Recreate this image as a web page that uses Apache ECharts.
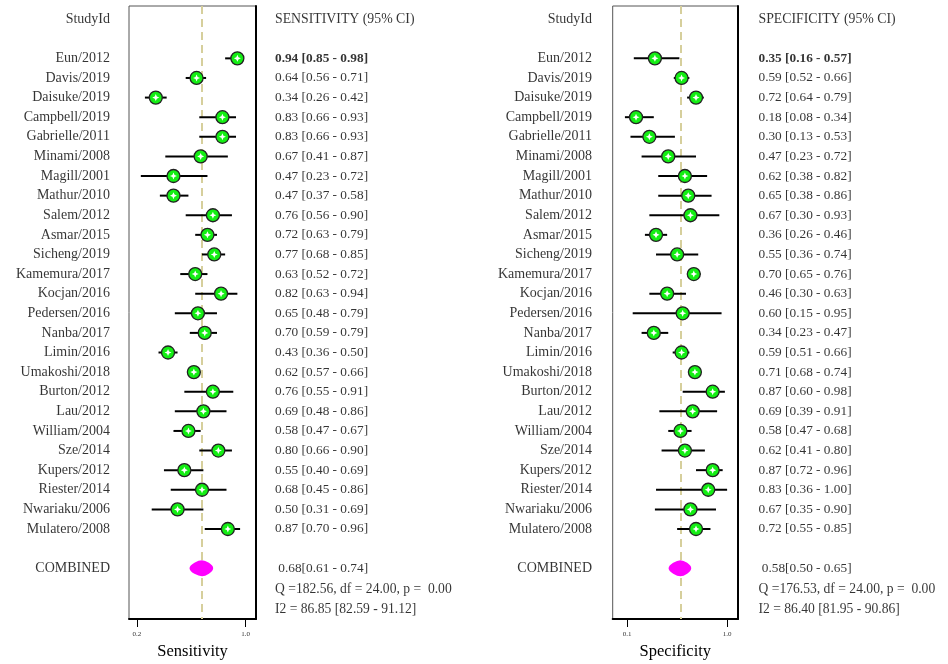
<!DOCTYPE html>
<html>
<head>
<meta charset="utf-8">
<script src="https://cdn.jsdelivr.net/npm/echarts@6/dist/echarts.min.js"></script>
<style>html,body{margin:0;padding:0;background:#fff}#c{width:948px;height:664px}</style>
</head>
<body>
<div id="c"></div>
<script>
const studies = ['Eun/2012','Davis/2019','Daisuke/2019','Campbell/2019','Gabrielle/2011','Minami/2008','Magill/2001','Mathur/2010','Salem/2012','Asmar/2015','Sicheng/2019','Kamemura/2017','Kocjan/2016','Pedersen/2016','Nanba/2017','Limin/2016','Umakoshi/2018','Burton/2012','Lau/2012','William/2004','Sze/2014','Kupers/2012','Riester/2014','Nwariaku/2006','Mulatero/2008'];

const sensEst = [0.94,0.64,0.34,0.83,0.83,0.67,0.47,0.47,0.76,0.72,0.77,0.63,0.82,0.65,0.70,0.43,0.62,0.76,0.69,0.58,0.80,0.55,0.68,0.50,0.87];
const sensLo  = [0.85,0.56,0.26,0.66,0.66,0.41,0.23,0.37,0.56,0.63,0.68,0.52,0.63,0.48,0.59,0.36,0.57,0.55,0.48,0.47,0.66,0.40,0.45,0.31,0.70];
const sensHi  = [0.98,0.71,0.42,0.93,0.93,0.87,0.72,0.58,0.90,0.79,0.85,0.72,0.94,0.79,0.79,0.50,0.66,0.91,0.86,0.67,0.90,0.69,0.86,0.69,0.96];

const specEst = [0.35,0.59,0.72,0.18,0.30,0.47,0.62,0.65,0.67,0.36,0.55,0.70,0.46,0.60,0.34,0.59,0.71,0.87,0.69,0.58,0.62,0.87,0.83,0.67,0.72];
const specLo  = [0.16,0.52,0.64,0.08,0.13,0.23,0.38,0.38,0.30,0.26,0.36,0.65,0.30,0.15,0.23,0.51,0.68,0.60,0.39,0.47,0.41,0.72,0.36,0.35,0.55];
const specHi  = [0.57,0.66,0.79,0.34,0.53,0.72,0.82,0.86,0.93,0.46,0.74,0.76,0.63,0.95,0.47,0.66,0.74,0.98,0.91,0.68,0.80,0.96,1.00,0.90,0.85];

const sensPooled = [0.68, 0.61, 0.74];
const specPooled = [0.58, 0.50, 0.65];
const sensStats = ['Q =182.56, df = 24.00, p =  0.00', 'I2 = 86.85 [82.59 - 91.12]'];
const specStats = ['Q =176.53, df = 24.00, p =  0.00', 'I2 = 86.40 [81.95 - 90.86]'];

const sensTicks = [0.2, 1.0];
const specTicks = [0.1, 1.0];
const sensTickLabels = ['0.2', '1.0'];
const specTickLabels = ['0.1', '1.0'];

const headerName = 'StudyId';
const sensHeader = 'SENSITIVITY (95% CI)';
const specHeader = 'SPECIFICITY (95% CI)';
const combinedName = 'COMBINED';
const sensAxisName = 'Sensitivity';
const specAxisName = 'Specificity';

// ---------- layout ----------
const FONT = '"Liberation Serif", "Times New Roman", serif';
const headerRow = -2;
const combinedRow = studies.length + 1;
const statRows = [combinedRow + 1.07, combinedRow + 2.1];
const yMin = -2.67, yMax = 28.59;
const gTop = 6, gHeight = 613;

const f2 = v => v.toFixed(2);
const ciText = (e, l, h) => `${f2(e)} [${f2(l)} - ${f2(h)}]`;
const pooledText = p => ` ${f2(p[0])}[${f2(p[1])} - ${f2(p[2])}]`;

const grids = [
  {left: 129, width: 127},        // 0 sens plot
  {left: 612.7, width: 125.3},    // 1 spec plot
  {left: 0, width: 110},          // 2 names left
  {left: 275, width: 150},        // 3 CI text left
  {left: 480, width: 112},        // 4 names right
  {left: 758.5, width: 150}       // 5 CI text right
].map(g => Object.assign({outerBoundsMode: 'none', show: false, top: gTop, height: gHeight}, g));
grids[0].show = true; grids[1].show = true;
grids[0].borderColor = '#555'; grids[0].borderWidth = 1;
grids[1].borderColor = '#555'; grids[1].borderWidth = 1;

function plotXAxis(gi, min, max, ticks, labels, name) {
  return {
    type: 'value', gridIndex: gi, min, max, position: 'bottom',
    splitLine: {show: false},
    axisLine: {show: true, onZero: false, lineStyle: {color: '#000', width: 2}},
    axisTick: {show: true, customValues: ticks, length: 8, lineStyle: {color: '#000', width: 1}},
    axisLabel: {show: true, customValues: ticks, fontSize: 7, fontFamily: FONT, color: '#333', margin: 12,
      formatter: v => labels[ticks.findIndex(t => Math.abs(t - v) < 1e-9)] || ''},
    name, nameLocation: 'middle', nameGap: 23,
    nameTextStyle: {fontFamily: FONT, fontSize: 16.5, color: '#000'}
  };
}
function hiddenXAxis(gi) {
  return {type: 'value', gridIndex: gi, min: 0, max: 1, show: false};
}
function yAxisFor(gi, showRight) {
  return {
    type: 'value', gridIndex: gi, min: yMin, max: yMax, inverse: true,
    position: 'right', show: showRight,
    splitLine: {show: false}, axisTick: {show: false}, axisLabel: {show: false},
    axisLine: {show: showRight, onZero: false, lineStyle: {color: '#000', width: 2}}
  };
}

const xAxis = [
  plotXAxis(0, 0.143, 1.077, sensTicks, sensTickLabels, sensAxisName),
  plotXAxis(1, -0.030, 1.098, specTicks, specTickLabels, specAxisName),
  hiddenXAxis(2), hiddenXAxis(3), hiddenXAxis(4), hiddenXAxis(5)
];
const yAxis = [yAxisFor(0, true), yAxisFor(1, true), yAxisFor(2, false), yAxisFor(3, false), yAxisFor(4, false), yAxisFor(5, false)];

function ciSeries(ai, lo, hi) {
  return {
    type: 'custom', xAxisIndex: ai, yAxisIndex: ai, z: 3,
    data: lo.map((l, i) => [l, hi[i], i]),
    encode: {x: [0, 1], y: 2},
    renderItem: (params, api) => {
      const a = api.coord([api.value(0), api.value(2)]);
      const b = api.coord([api.value(1), api.value(2)]);
      return {type: 'line', shape: {x1: a[0], y1: a[1], x2: b[0], y2: b[1]},
        style: {stroke: '#000', lineWidth: 2}};
    },
    markLine: {
      silent: true, symbol: 'none', z: 1,
      label: {show: false},
      lineStyle: {color: '#d6cf9c', width: 2, type: [8, 5]},
      data: [{xAxis: ai === 0 ? sensPooled[0] : specPooled[0]}]
    }
  };
}
function markerSeries(ai, est) {
  return [{
    type: 'scatter', xAxisIndex: ai, yAxisIndex: ai, z: 4,
    data: est.map((v, i) => [v, i]),
    symbol: 'circle', symbolSize: 13,
    itemStyle: {color: '#14ee14', borderColor: '#222', borderWidth: 1.3, opacity: 1}
  }, {
    type: 'scatter', xAxisIndex: ai, yAxisIndex: ai, z: 5,
    data: est.map((v, i) => [v, i]),
    symbol: 'path://M0,-10 L3,-3 L10,0 L3,3 L0,10 L-3,3 L-10,0 L-3,-3 Z', symbolSize: 7,
    itemStyle: {color: '#fff', opacity: 1}
  }];
}
function diamondSeries(ai, p) {
  return {
    type: 'custom', xAxisIndex: ai, yAxisIndex: ai, z: 4,
    data: [[p[0], p[1], p[2], combinedRow]],
    encode: {x: [0, 1, 2], y: 3},
    renderItem: (params, api) => {
      const c = api.coord([api.value(0), api.value(3)]);
      const l = api.coord([api.value(1), api.value(3)]);
      const h = api.coord([api.value(2), api.value(3)]);
      return {type: 'polygon', shape: {points: [[l[0] - 1, c[1]], [c[0], c[1] - 6], [h[0] + 1, c[1]], [c[0], c[1] + 6]], smooth: 0.35},
        style: {fill: '#ff00ff', stroke: '#ff00ff', lineWidth: 4, lineJoin: 'round'}};
    }
  };
}
function textSeries(ai, x, pos, items, size) {
  return {
    type: 'scatter', xAxisIndex: ai, yAxisIndex: ai, symbolSize: 0, silent: true,
    data: items.map(it => ({value: [x, it.row], label: Object.assign({formatter: it.text}, it.style || {})})),
    label: {show: true, position: pos, distance: 0, fontFamily: FONT, fontSize: size, color: '#000'}
  };
}

function namesItems() {
  const arr = [{row: headerRow, text: headerName}];
  studies.forEach((s, i) => arr.push({row: i, text: s}));
  arr.push({row: combinedRow, text: combinedName});
  return arr;
}
function ciItems(header, est, lo, hi, pooled, stats) {
  const arr = [{row: headerRow, text: header, style: {fontSize: 13.8}}];
  est.forEach((e, i) => arr.push({row: i, text: ciText(e, lo[i], hi[i]), style: i === 0 ? {fontWeight: 'bold'} : {}}));
  arr.push({row: combinedRow, text: pooledText(pooled)});
  stats.forEach((s, k) => arr.push({row: statRows[k], text: s, style: {fontSize: 13.6}}));
  return arr;
}

const series = [
  ciSeries(0, sensLo, sensHi), ...markerSeries(0, sensEst), diamondSeries(0, sensPooled),
  ciSeries(1, specLo, specHi), ...markerSeries(1, specEst), diamondSeries(1, specPooled),
  textSeries(2, 1, 'left', namesItems(), 14),
  textSeries(3, 0, 'right', ciItems(sensHeader, sensEst, sensLo, sensHi, sensPooled, sensStats), 13.3),
  textSeries(4, 1, 'left', namesItems(), 14),
  textSeries(5, 0, 'right', ciItems(specHeader, specEst, specLo, specHi, specPooled, specStats), 13.3)
];

const chart = echarts.init(document.getElementById('c'), null, {renderer: 'canvas'});
chart.setOption({animation: false, backgroundColor: '#fff', grid: grids, xAxis, yAxis, series});
</script>
</body>
</html>
